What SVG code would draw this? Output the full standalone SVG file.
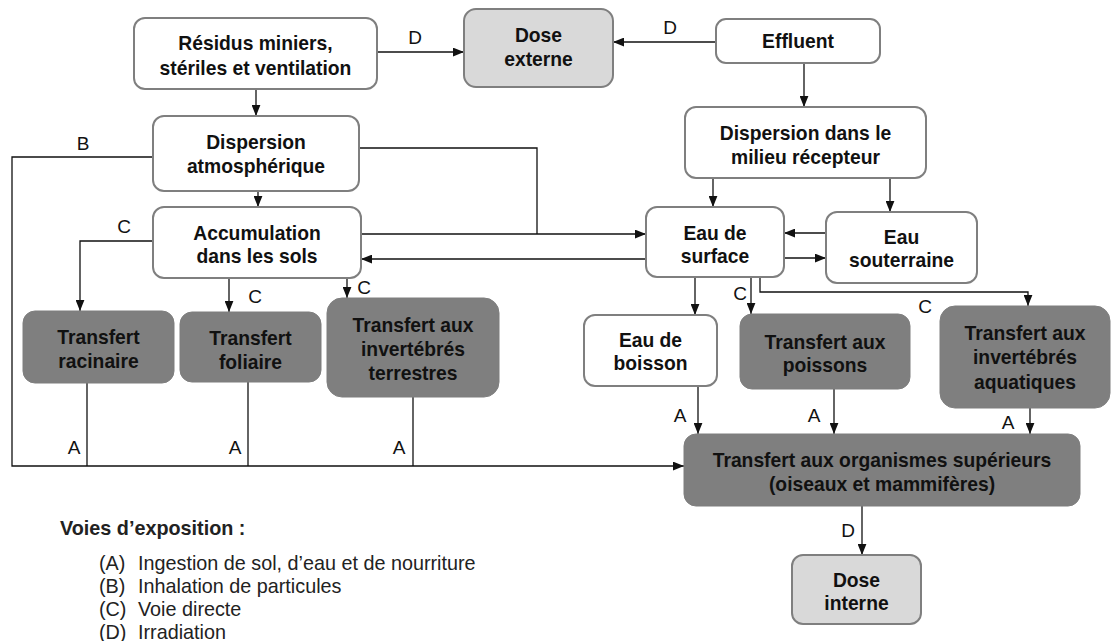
<svg xmlns="http://www.w3.org/2000/svg" width="1113" height="641" viewBox="0 0 1113 641">
<style>
.w{fill:#ffffff;stroke:#7f7f7f;stroke-width:2}
.lg{fill:#d9d9d9;stroke:#7f7f7f;stroke-width:2}
.dk{fill:#7f7f7f;stroke:#7f7f7f;stroke-width:1}
.t{font-family:"Liberation Sans",Arial,sans-serif;font-weight:bold;font-size:19.3px;fill:#111;text-anchor:middle}
.l{font-family:"Liberation Sans",Arial,sans-serif;font-size:19px;fill:#111;text-anchor:middle}
.c{fill:none;stroke:#111;stroke-width:1.3}
.a{marker-end:url(#ah)}
.lt{font-family:"Liberation Sans",Arial,sans-serif;font-size:19.8px;fill:#222}
</style>
<defs>
<marker id="ah" viewBox="0 0 10 8" refX="10" refY="4" markerWidth="11" markerHeight="9" markerUnits="userSpaceOnUse" orient="auto">
<path d="M0,0 L10,4 L0,8 z" fill="#111"/>
</marker>
</defs>
<rect width="1113" height="641" fill="#ffffff"/>

<g id="connectors">
<path class="c a" d="M377,52 H464"/>
<path class="c a" d="M716,42 H613"/>
<path class="c a" d="M256,89 V116"/>
<path class="c a" d="M804,63 V107"/>
<path class="c a" d="M258,191 V207"/>
<path class="c a" d="M153,157 H12 V466 H684"/>
<path class="c" d="M87,383 V466"/>
<path class="c" d="M248,382 V466"/>
<path class="c" d="M413,397 V466"/>
<path class="c" d="M359,148 H537 V234"/>
<path class="c a" d="M361,234 H646"/>
<path class="c a" d="M646,259 H361"/>
<path class="c a" d="M713,178 V207"/>
<path class="c a" d="M890,178 V212"/>
<path class="c a" d="M826,233 H784"/>
<path class="c a" d="M784,258 H826"/>
<path class="c a" d="M153,241 H80 V311"/>
<path class="c a" d="M229,278 V312"/>
<path class="c a" d="M347,278 V298"/>
<path class="c a" d="M695,277 V315"/>
<path class="c a" d="M751,277 V314"/>
<path class="c a" d="M760,277 V292 H1028 V306"/>
<path class="c a" d="M698,386 V434"/>
<path class="c a" d="M834,389 V434"/>
<path class="c a" d="M1030,408 V434"/>
<path class="c a" d="M862,506 V555"/>
<text class="l" x="415" y="44">D</text>
<text class="l" x="670" y="34">D</text>
<text class="l" x="83" y="150">B</text>
<text class="l" x="124" y="233">C</text>
<text class="l" x="255" y="303">C</text>
<text class="l" x="364" y="294">C</text>
<text class="l" x="740" y="300">C</text>
<text class="l" x="925" y="313">C</text>
<text class="l" x="74" y="454">A</text>
<text class="l" x="235" y="454">A</text>
<text class="l" x="399" y="454">A</text>
<text class="l" x="680" y="422">A</text>
<text class="l" x="814" y="422">A</text>
<text class="l" x="1008" y="429">A</text>
<text class="l" x="848" y="537">D</text>
</g>

<g id="residus"><rect class="w" x="134" y="18" width="243" height="71" rx="11"/>
<text class="t" x="255.5" y="49.5">Résidus miniers,</text><text class="t" x="255.5" y="74.5">stériles et ventilation</text></g>
<g id="dose_externe"><rect class="lg" x="464" y="9" width="149" height="78" rx="12"/>
<text class="t" x="538.5" y="41.5">Dose</text><text class="t" x="538.5" y="65.5">externe</text></g>
<g id="effluent"><rect class="w" x="716" y="19" width="164" height="44" rx="10"/>
<text class="t" x="798" y="47.5">Effluent</text></g>
<g id="dispersion_atm"><rect class="w" x="153" y="116" width="206" height="75" rx="11"/>
<text class="t" x="256" y="148.5">Dispersion</text><text class="t" x="256" y="172.5">atmosphérique</text></g>
<g id="dispersion_milieu"><rect class="w" x="685" y="107" width="241" height="71" rx="11"/>
<text class="t" x="805.5" y="139.5">Dispersion dans le</text><text class="t" x="805.5" y="163.5">milieu récepteur</text></g>
<g id="accumulation"><rect class="w" x="153" y="207" width="208" height="71" rx="11"/>
<text class="t" x="257" y="239.5">Accumulation</text><text class="t" x="257" y="262.5">dans les sols</text></g>
<g id="eau_surface"><rect class="w" x="646" y="207" width="138" height="70" rx="11"/>
<text class="t" x="715" y="239.5">Eau de</text><text class="t" x="715" y="262.5">surface</text></g>
<g id="eau_souterraine"><rect class="w" x="826" y="212" width="151" height="71" rx="11"/>
<text class="t" x="901.5" y="243.5">Eau</text><text class="t" x="901.5" y="266.5">souterraine</text></g>
<g id="racinaire"><rect class="dk" x="23" y="311" width="151" height="72" rx="12"/>
<text class="t" x="98.5" y="343.5">Transfert</text><text class="t" x="98.5" y="367.5">racinaire</text></g>
<g id="foliaire"><rect class="dk" x="180" y="312" width="141" height="70" rx="12"/>
<text class="t" x="250.5" y="344.5">Transfert</text><text class="t" x="250.5" y="368.5">foliaire</text></g>
<g id="invertebres_terrestres"><rect class="dk" x="327" y="298" width="172" height="99" rx="15"/>
<text class="t" x="413" y="331.5">Transfert aux</text><text class="t" x="413" y="355.5">invertébrés</text><text class="t" x="413" y="379.5">terrestres</text></g>
<g id="eau_boisson"><rect class="w" x="584" y="315" width="133" height="71" rx="11"/>
<text class="t" x="650.5" y="346.5">Eau de</text><text class="t" x="650.5" y="369.5">boisson</text></g>
<g id="poissons"><rect class="dk" x="740" y="314" width="170" height="75" rx="12"/>
<text class="t" x="825" y="348.5">Transfert aux</text><text class="t" x="825" y="371.5">poissons</text></g>
<g id="invertebres_aquatiques"><rect class="dk" x="940" y="306" width="170" height="102" rx="15"/>
<text class="t" x="1025" y="340">Transfert aux</text><text class="t" x="1025" y="364">invertébrés</text><text class="t" x="1025" y="389">aquatiques</text></g>
<g id="organismes"><rect class="dk" x="684" y="434" width="396" height="72" rx="12"/>
<text class="t" x="882" y="466.5">Transfert aux organismes supérieurs</text><text class="t" x="882" y="490.5">(oiseaux et mammifères)</text></g>
<g id="dose_interne"><rect class="lg" x="792" y="555" width="129" height="69" rx="11"/>
<text class="t" x="856.5" y="586.5">Dose</text><text class="t" x="856.5" y="609.5">interne</text></g>

<g id="legende">
<text class="lt" x="60" y="535" font-weight="bold">Voies d’exposition :</text>
<text class="lt" x="99" y="570">(A)</text><text class="lt" x="138" y="570">Ingestion de sol, d’eau et de nourriture</text>
<text class="lt" x="99" y="593">(B)</text><text class="lt" x="138" y="593">Inhalation de particules</text>
<text class="lt" x="99" y="616">(C)</text><text class="lt" x="138" y="616">Voie directe</text>
<text class="lt" x="99" y="638.5">(D)</text><text class="lt" x="138" y="638.5">Irradiation</text>
</g>
</svg>
